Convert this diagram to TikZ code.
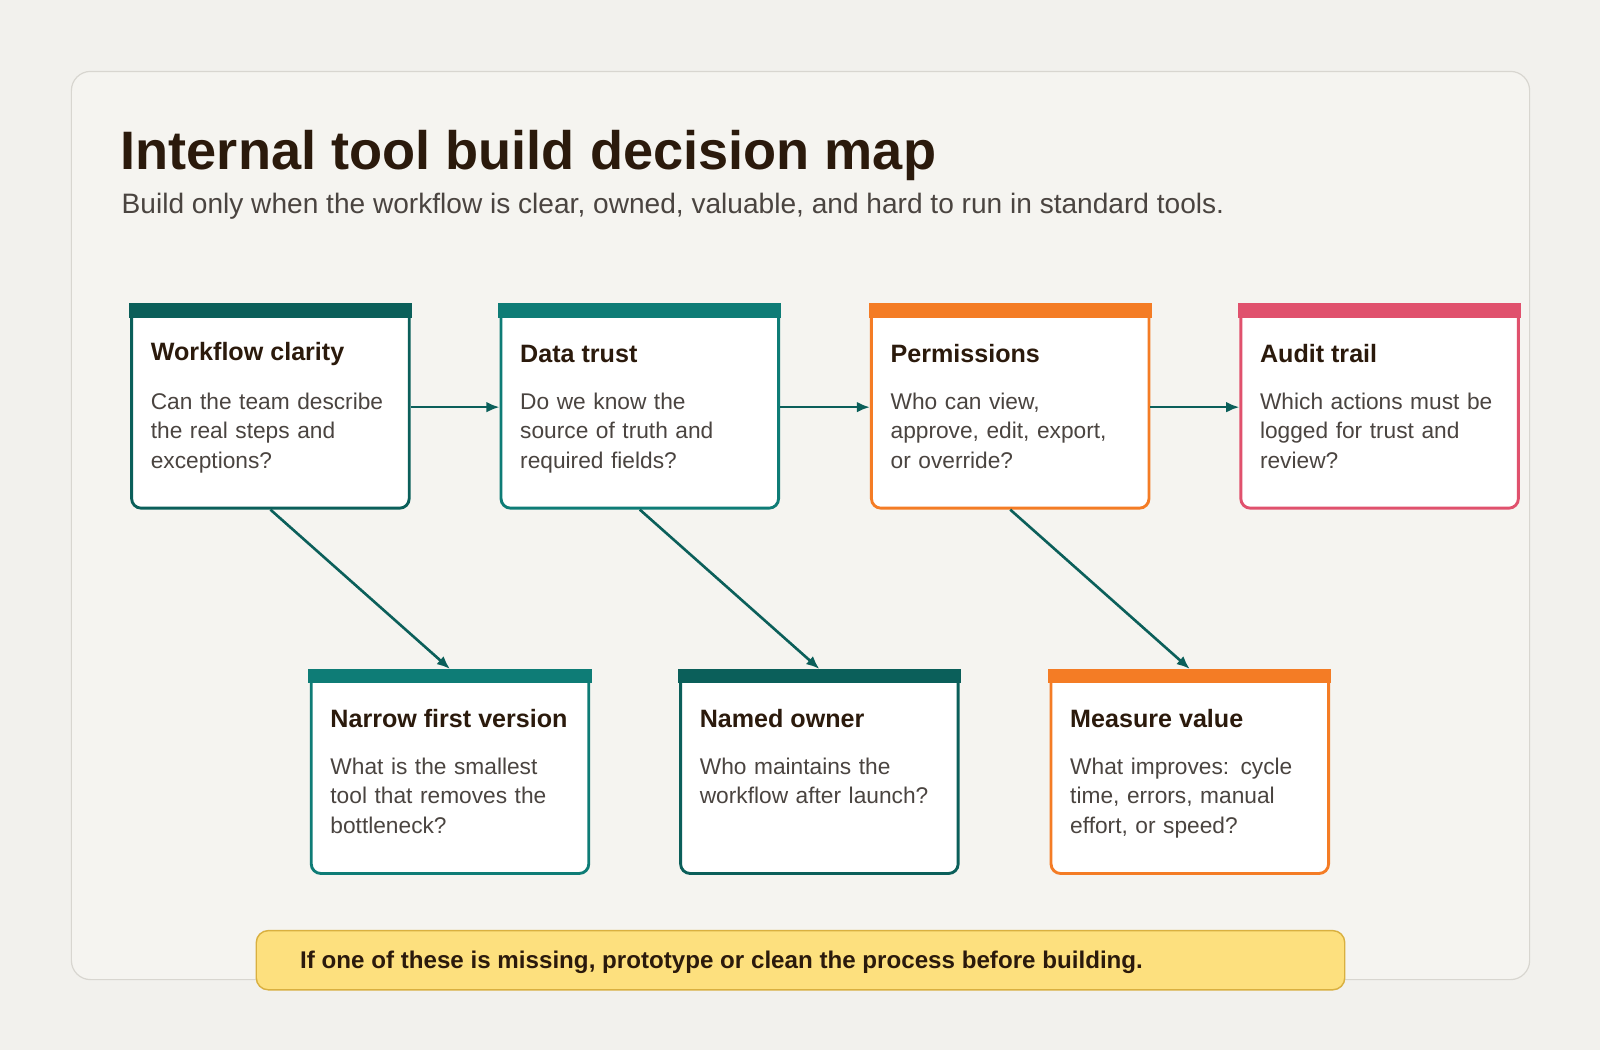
\documentclass[tikz,border=0pt]{standalone}
\usepackage{fontspec}
\setmainfont{Liberation Sans}
\usetikzlibrary{calc,arrows.meta}
\definecolor{bg}{HTML}{F2F1ED}
\definecolor{panel}{HTML}{F5F4F0}
\definecolor{panelline}{HTML}{D8D6D0}
\definecolor{dteal}{HTML}{0B5F5A}
\definecolor{teal}{HTML}{0E7C76}
\definecolor{orng}{HTML}{F47C25}
\definecolor{pink}{HTML}{E0516D}
\definecolor{ink}{HTML}{2B1A0C}
\definecolor{body}{HTML}{4A4440}
\definecolor{note}{HTML}{FDE07E}
\definecolor{noteline}{HTML}{D9B040}
\tikzset{
  x=0.03cm,y=-0.03cm,
  box/.style={draw=#1,fill=white,line width=2.4pt,rounded corners=8pt,minimum width=8.16cm,minimum height=5.94cm,inner sep=0pt},
  ttl/.style={anchor=west,font=\fontsize{21}{24}\selectfont\bfseries,text=ink,inner sep=0pt},
  bdy/.style={anchor=north west,font=\fontsize{19}{24.7}\selectfont,text=body,text width=7.8cm,align=left,inner sep=0pt},
  arr/.style={draw=dteal,line width=2.2pt,-{Latex[length=11pt,width=9pt]}}
}
\newcommand{\qbox}[6]{%
  \node[box=#4] (#1) at (#2,#3) {};
  \fill[#4] ($(#1.north west)+(-1.4,-1.4)$) rectangle ($(#1.north east)+(1.4,13)$);
  \node[ttl] (#1t) at ($(#1.north west)+(20,48)$) {#5};
  \node[bdy] (#1b) at ($(#1.north west)+(20,86)$) {#6};
}
\begin{document}
\begin{tikzpicture}
\useasboundingbox (0,0) rectangle (1568,1029);
\fill[bg] (0,0) rectangle (1568,1029);
\node[draw=panelline,fill=panel,line width=1pt,rounded corners=16pt,minimum width=42.87cm,minimum height=26.7cm] (panel) at (784.5,515) {};
\node[anchor=base west,inner sep=0pt,font=\fontsize{45.3}{50}\selectfont\bfseries,text=ink] (title) at (118,166) {Internal tool build decision map};
\node[anchor=base west,inner sep=0pt,font=\fontsize{23.5}{27}\selectfont,text=body] (sub) at (119,209) {Build only when the workflow is clear, owned, valuable, and hard to run in standard tools.};
\qbox{b1}{265}{399}{dteal}{Workflow clarity}{Can the team describe\\the real steps and\\exceptions?}
\qbox{b2}{627}{399}{teal}{Data trust}{Do we know the\\source of truth and\\required fields?}
\qbox{b3}{990}{399}{orng}{Permissions}{Who can view,\\approve, edit, export,\\or override?}
\qbox{b4}{1352}{399}{pink}{Audit trail}{Which actions must be\\logged for trust and\\review?}
\qbox{b5}{441}{757}{teal}{Narrow first version}{What is the smallest\\tool that removes the\\bottleneck?}
\qbox{b6}{803}{757}{dteal}{Named owner}{Who maintains the\\workflow after launch?}
\qbox{b7}{1166}{757}{orng}{Measure value}{What improves: cycle\\time, errors, manual\\effort, or speed?}
\draw[arr] (b1.east) -- (b2.west);
\draw[arr] (b2.east) -- (b3.west);
\draw[arr] (b3.east) -- (b4.west);
\draw[arr] (b1.south) -- ($(b5.north)+(0,-1)$);
\draw[arr] (b2.south) -- ($(b6.north)+(0,-1)$);
\draw[arr] (b3.south) -- ($(b7.north)+(0,-1)$);
\node[draw=noteline,fill=note,line width=1.2pt,rounded corners=10pt,minimum width=32.0cm,minimum height=1.74cm] (foot) at (784.5,941) {};
\node[anchor=west,inner sep=0pt,font=\fontsize{20.2}{24}\selectfont\bfseries,text=ink] (foott) at (294,943) {If one of these is missing, prototype or clean the process before building.};
\end{tikzpicture}
\end{document}
